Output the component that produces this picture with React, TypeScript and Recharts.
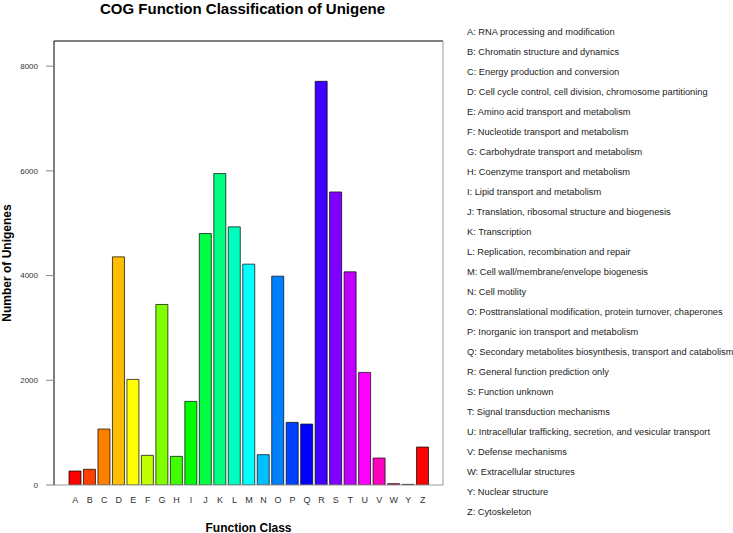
import { BarChart, Bar, Cell, XAxis, YAxis, Label } from 'recharts';

const FONT = '"Liberation Sans", Arial, Helvetica, sans-serif';

// COG classes (no X in the source figure)
const CLASSES = ['A', 'B', 'C', 'D', 'E', 'F', 'G', 'H', 'I', 'J', 'K', 'L', 'M', 'N', 'O', 'P', 'Q', 'R', 'S', 'T', 'U', 'V', 'W', 'Y', 'Z'];

const COUNTS = [267, 300, 1069, 4357, 2017, 566, 3448, 547, 1597, 4803, 5948, 4930, 4218, 579, 3989, 1196, 1164, 7710, 5597, 4071, 2151, 515, 25, 12, 725];

const DESCRIPTIONS = [
  'RNA processing and modification',
  'Chromatin structure and dynamics',
  'Energy production and conversion',
  'Cell cycle control, cell division, chromosome partitioning',
  'Amino acid transport and metabolism',
  'Nucleotide transport and metabolism',
  'Carbohydrate transport and metabolism',
  'Coenzyme transport and metabolism',
  'Lipid transport and metabolism',
  'Translation, ribosomal structure and biogenesis',
  'Transcription',
  'Replication, recombination and repair',
  'Cell wall/membrane/envelope biogenesis',
  'Cell motility',
  'Posttranslational modification, protein turnover, chaperones',
  'Inorganic ion transport and metabolism',
  'Secondary metabolites biosynthesis, transport and catabolism',
  'General function prediction only',
  'Function unknown',
  'Signal transduction mechanisms',
  'Intracellular trafficking, secretion, and vesicular transport',
  'Defense mechanisms',
  'Extracellular structures',
  'Nuclear structure',
  'Cytoskeleton',
];

const COLORS = [
  '#FF0000', '#FF4000', '#FF8000', '#FFBF00', '#FFFF00', '#BFFF00', '#80FF00', '#40FF00', '#00FF00',
  '#00FF40', '#00FF80', '#00FFBF', '#00FFFF', '#00BFFF', '#0080FF', '#0040FF', '#0000FF', '#4000FF',
  '#8000FF', '#BF00FF', '#FF00FF', '#FF00BF', '#FF0080', '#FF0040', '#FF0000',
];

const Y_TICKS = [0, 2000, 4000, 6000, 8000];
const Y_DOMAIN = [0, 8480];

export default function App() {
  const data = CLASSES.map((cls, i) => ({ cls, count: COUNTS[i] }));

  return (
    <div style={{ position: 'absolute', left: 0, top: 0, width: 733, height: 533, background: '#fff', fontFamily: FONT }}>
      {/* Title */}
      <div
        style={{
          position: 'absolute', left: 0, top: 0, width: 485, textAlign: 'center',
          fontSize: 15, fontWeight: 'bold', lineHeight: '17px', color: '#000',
        }}
      >
        COG Function Classification of Unigene
      </div>

      <BarChart
        width={733}
        height={533}
        data={data}
        margin={{ top: 40, right: 289, bottom: 0, left: 0 }}
        style={{ fontFamily: FONT }}
      >
        <XAxis
          dataKey="cls"
          height={48}
          padding={{ left: 14, right: 13 }}
          axisLine={{ stroke: '#999' }}
          tickLine={false}
          tickSize={0}
          tickMargin={12}
          interval={0}
          tick={{ fontSize: 9, fill: '#333' }}
        >
          <Label value="Function Class" position="insideBottom" offset={1.5} style={{ fontSize: 12, fontWeight: 'bold', fill: '#000' }} />
        </XAxis>
        {/* top and right edges of the plot frame */}
        <XAxis xAxisId="top" dataKey="cls" orientation="top" height={1} tick={false} tickLine={false} axisLine={{ stroke: '#000' }} />
        <YAxis
          width={54}
          domain={Y_DOMAIN}
          ticks={Y_TICKS}
          allowDataOverflow
          axisLine={{ stroke: '#000' }}
          tickLine={{ stroke: '#888' }}
          tickSize={8}
          tickMargin={8}
          tick={{ fontSize: 8, fill: '#333' }}
        >
          <Label
            value="Number of Unigenes"
            angle={-90}
            position="insideLeft"
            offset={7}
            style={{ textAnchor: 'middle', fontSize: 12, fontWeight: 'bold', fill: '#000' }}
          />
        </YAxis>
        <YAxis yAxisId="right" orientation="right" width={1} domain={Y_DOMAIN} tick={false} tickLine={false} axisLine={{ stroke: '#999' }} />
        <Bar dataKey="count" barSize={12} stroke="rgba(0,0,0,0.7)" strokeWidth={1} isAnimationActive={false}>
          {data.map((d, i) => (
            <Cell key={d.cls} fill={COLORS[i]} />
          ))}
        </Bar>
      </BarChart>

      {/* Class descriptions */}
      <div style={{ position: 'absolute', left: 467, top: 22, fontSize: 9.25, lineHeight: '20px', color: '#222', whiteSpace: 'nowrap' }}>
        {CLASSES.map((cls, i) => (
          <div key={cls}>{cls}: {DESCRIPTIONS[i]}</div>
        ))}
      </div>
    </div>
  );
}
